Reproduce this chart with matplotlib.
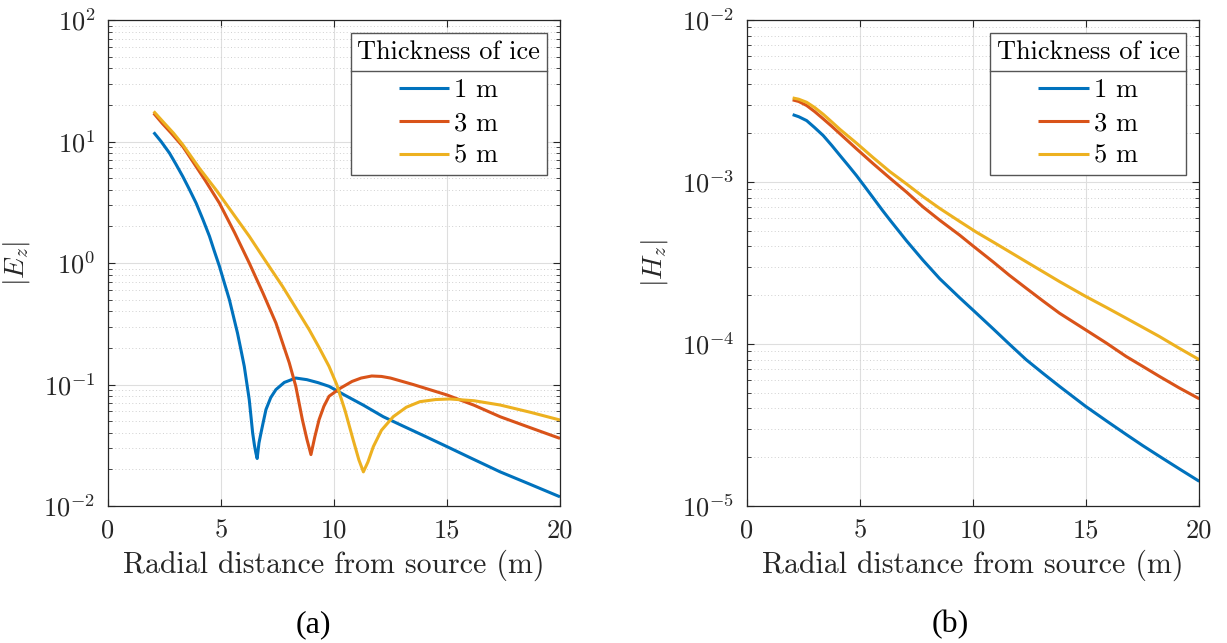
import numpy as np
import matplotlib
matplotlib.use('Agg')
import matplotlib.pyplot as plt
from matplotlib.lines import Line2D
from matplotlib.transforms import IdentityTransform
from matplotlib.ticker import LogLocator, NullFormatter, FixedLocator, FixedFormatter

plt.rcParams['font.family'] = ['cmr10']
plt.rcParams['mathtext.fontset'] = 'cm'
plt.rcParams['axes.formatter.use_mathtext'] = True
plt.rcParams['axes.unicode_minus'] = False

# ---------------- data ----------------
series_labels = ['1 m', '3 m', '5 m']
legend_title = 'Thickness of ice'
x_label = 'Radial distance from source (m)'
x_ticks = [0, 5, 10, 15, 20]
x_ticklabels = ['0', '5', '10', '15', '20']
captions = ['(a)', '(b)']

# Panel (a): |E_z|
ez_x_1m = [2.02, 2.35, 2.72, 3.0, 3.31, 3.6, 3.9, 4.2, 4.49, 4.7, 4.93, 5.15, 5.37,
           5.55, 5.73, 5.88, 6.03, 6.15, 6.25, 6.33, 6.40, 6.48, 6.54, 6.6, 6.68,
           6.77, 6.88, 6.99, 7.2, 7.43, 7.8, 8.31, 8.8, 9.3, 9.78, 10.5, 11.3,
           12.18, 13.0, 14.0, 15.0, 16.0, 17.35, 18.6, 20.0]
ez_y_1m = [11.9, 10.0, 8.03, 6.53, 5.15, 4.04, 3.11, 2.28, 1.66, 1.26, 0.94, 0.684,
           0.50, 0.364, 0.265, 0.194, 0.141, 0.100, 0.075, 0.0537, 0.040, 0.0316,
           0.0275, 0.0246, 0.033, 0.040, 0.050, 0.0622, 0.078, 0.0908, 0.104,
           0.113, 0.1096, 0.1035, 0.0966, 0.0813, 0.0676, 0.0543, 0.046, 0.0377,
           0.0308, 0.0251, 0.0191, 0.0153, 0.0119]

ez_x_3m = [2.02, 2.4, 2.8, 3.31, 3.7, 4.3, 4.93, 5.6, 6.25, 6.85, 7.43, 7.75, 8.02,
           8.31, 8.6, 8.8, 8.98, 9.15, 9.34, 9.55, 9.78, 10.27, 10.8, 11.2, 11.67,
           12.1, 12.5, 13.5, 15.0, 16.2, 17.35, 18.7, 20.0]
ez_y_3m = [17.1, 14.1, 11.7, 9.1, 7.08, 4.79, 3.11, 1.78, 1.0, 0.569, 0.321, 0.213,
           0.151, 0.0966, 0.0514, 0.0355, 0.0265, 0.037, 0.0514, 0.066, 0.080,
           0.093, 0.106, 0.113, 0.1175, 0.1165, 0.113, 0.1, 0.082, 0.0675, 0.0543,
           0.044, 0.036]

ez_x_5m = [2.02, 2.5, 2.9, 3.31, 4.05, 4.78, 5.5, 6.25, 7.0, 7.72, 8.3, 8.9, 9.35,
           9.78, 10.12, 10.5, 10.85, 11.1, 11.3, 11.5, 11.74, 12.1, 12.62, 13.2,
           13.8, 14.5, 15.13, 16.2, 17.35, 18.7, 20.0]
ez_y_5m = [17.7, 14.1, 11.7, 9.4, 6.0, 4.0, 2.6, 1.66, 1.02, 0.643, 0.43, 0.283,
           0.2, 0.141, 0.1, 0.06, 0.0349, 0.024, 0.0191, 0.023, 0.0308, 0.042,
           0.0543, 0.065, 0.0722, 0.0752, 0.076, 0.0735, 0.0678, 0.059, 0.051]

# Panel (b): |H_z|
hz_x_1m = [2.03, 2.3, 2.65, 3.0, 3.38, 3.75, 4.12, 4.5, 4.85, 5.2, 5.59, 6.0, 6.32,
           7.06, 7.79, 8.53, 9.41, 10.0, 10.88, 11.6, 12.35, 13.1, 13.82, 14.97,
           15.9, 16.76, 17.5, 18.23, 19.1, 20.0]
hz_y_1m = [2.606e-3, 2.529e-3, 2.393e-3, 2.168e-3, 1.936e-3, 1.687e-3, 1.459e-3,
           1.259e-3, 1.096e-3, 9.44e-4, 7.98e-4, 6.68e-4, 5.85e-4, 4.34e-4,
           3.29e-4, 2.53e-4, 1.93e-4, 1.62e-4, 1.245e-4, 1.0e-4, 8.0e-5, 6.58e-5,
           5.48e-5, 4.13e-5, 3.35e-5, 2.77e-5, 2.36e-5, 2.03e-5, 1.70e-5, 1.42e-5]

hz_x_3m = [2.03, 2.3, 2.65, 3.0, 3.38, 3.75, 4.12, 4.85, 5.59, 6.32, 7.06, 7.79,
           8.53, 9.41, 10.0, 10.88, 11.6, 12.35, 13.1, 13.82, 14.97, 15.9, 16.76,
           17.5, 18.23, 19.1, 20.0]
hz_y_3m = [3.214e-3, 3.141e-3, 2.965e-3, 2.723e-3, 2.455e-3, 2.213e-3, 1.986e-3,
           1.603e-3, 1.297e-3, 1.059e-3, 8.67e-4, 7.02e-4, 5.81e-4, 4.70e-4,
           4.03e-4, 3.22e-4, 2.66e-4, 2.21e-4, 1.84e-4, 1.55e-4, 1.225e-4,
           1.012e-4, 8.39e-5, 7.28e-5, 6.32e-5, 5.37e-5, 4.59e-5]

hz_x_5m = [2.03, 2.3, 2.65, 3.0, 3.38, 3.75, 4.12, 4.85, 5.59, 6.32, 7.06, 7.79,
           8.53, 9.41, 10.15, 10.88, 11.6, 12.35, 13.1, 13.82, 14.97, 15.9, 16.76,
           17.5, 18.23, 19.1, 20.0]
hz_y_5m = [3.304e-3, 3.243e-3, 3.105e-3, 2.884e-3, 2.618e-3, 2.355e-3, 2.113e-3,
           1.738e-3, 1.413e-3, 1.161e-3, 9.73e-4, 8.13e-4, 6.87e-4, 5.71e-4,
           4.90e-4, 4.27e-4, 3.72e-4, 3.22e-4, 2.79e-4, 2.43e-4, 1.97e-4, 1.68e-4,
           1.445e-4, 1.268e-4, 1.114e-4, 9.44e-5, 8.0e-5]

# ---------------- style ----------------
colors = ['#0072BD', '#D95319', '#EDB120']
FS = 19
LW = 2.2
axcol = '#262626'

fig = plt.figure(figsize=(12.27, 6.43), dpi=100)
axA = fig.add_axes([108 / 1227, 1 - 506 / 643, 452 / 1227, 486 / 643])
axB = fig.add_axes([746.7 / 1227, 1 - 506 / 643, 452.6 / 1227, 486 / 643])


def style(ax, ylim, ylabel):
    ax.set_yscale('log')
    ax.set_xlim(0, 20)
    ax.set_ylim(*ylim)
    ax.xaxis.set_major_locator(FixedLocator(x_ticks))
    ax.xaxis.set_major_formatter(FixedFormatter(x_ticklabels))
    ax.yaxis.set_major_locator(LogLocator(base=10, numticks=20))
    ax.yaxis.set_minor_locator(LogLocator(base=10, subs=np.arange(2, 10), numticks=20))
    ax.yaxis.set_minor_formatter(NullFormatter())
    ax.tick_params(which='both', direction='in', top=True, right=True,
                   colors=axcol, labelcolor=axcol, labelsize=FS)
    ax.tick_params(which='major', length=5, width=0.8, pad=9)
    ax.tick_params(which='minor', length=3, width=0.6)
    ax.tick_params(axis='x', which='minor', bottom=False, top=False)
    for s in ax.spines.values():
        s.set_color(axcol)
        s.set_linewidth(0.9)
    ax.grid(True, which='major', color='#dedede', linewidth=0.8, linestyle='-')
    ax.grid(True, which='minor', axis='y', color='#d0d0d0', linewidth=0.7,
            linestyle=(0, (1, 2.5)))
    ax.set_axisbelow(True)
    ax.set_xlabel(x_label, fontsize=21.5, color=axcol, labelpad=5)
    ax.set_ylabel(ylabel, fontsize=FS + 1, color=axcol, labelpad=8)


seriesA = [(ez_x_1m, ez_y_1m), (ez_x_3m, ez_y_3m), (ez_x_5m, ez_y_5m)]
seriesB = [(hz_x_1m, hz_y_1m), (hz_x_3m, hz_y_3m), (hz_x_5m, hz_y_5m)]

for ax, series in ((axA, seriesA), (axB, seriesB)):
    for (xs, ys), c, lab in zip(series, colors, series_labels):
        ax.plot(xs, ys, color=c, linewidth=LW, label=lab,
                solid_joinstyle='round', solid_capstyle='butt')

style(axA, (1e-2, 1e2), r'$|E_z|$')
style(axB, (1e-5, 1e-2), r'$|H_z|$')

legs = []
for ax in (axA, axB):
    leg = ax.legend(title=legend_title, loc='upper right',
                    fancybox=False, framealpha=1, edgecolor='#555555',
                    fontsize=FS, title_fontsize=FS, handlelength=1.9,
                    handletextpad=0.2, borderpad=0.25, labelspacing=0.35,
                    borderaxespad=0.5)
    leg.get_frame().set_linewidth(1.0)
    leg._legend_box.sep = 0.35 * FS + 4
    legs.append(leg)

fig.text(313 / 1227, 1 - 625 / 643, captions[0], family='Liberation Serif', fontsize=23,
         ha='center', va='center', color='black')
fig.text(950 / 1227, 1 - 625 / 643, captions[1], family='Liberation Serif', fontsize=23,
         ha='center', va='center', color='black')

# separator line under legend title (MATLAB style)
fig.canvas.draw()
r = fig.canvas.get_renderer()
for leg in legs:
    fb = leg.get_frame().get_window_extent(r)
    tb = leg.get_title().get_window_extent(r)
    eb = leg.get_texts()[0].get_window_extent(r)
    ysep = (tb.y0 + eb.y1) / 2
    fig.add_artist(Line2D([fb.x0, fb.x1], [ysep, ysep], transform=IdentityTransform(),
                          color='#555555', linewidth=1.0, zorder=10))

fig.savefig('out.png', dpi=100)
